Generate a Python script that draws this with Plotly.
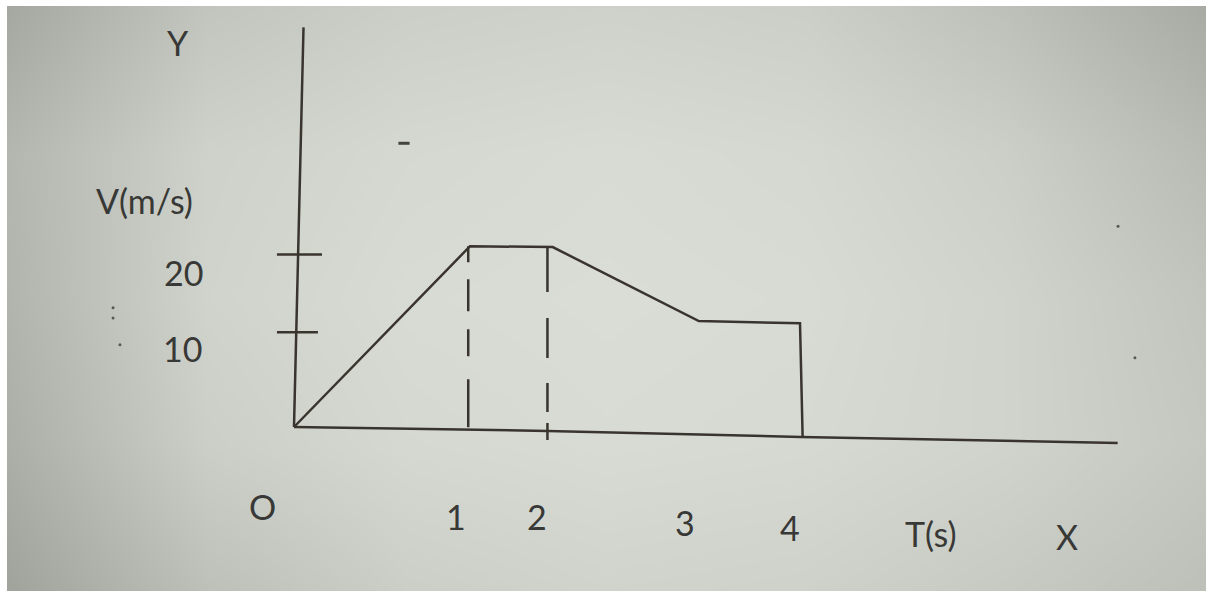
import plotly.graph_objects as go

# sketch units: 1 time unit = distance from O to mark "1", velocity in m/s as drawn
t_line = [0, 1.0, 1.47, 2.30, 2.875, 2.89]
v_line = [0, 20.9, 20.8, 12.25, 12.0, -1.15]

t_yaxis = [0, 0.054]
v_yaxis = [0, 46.2]

t_xaxis = [0, 1.44, 2.88, 4.68]
v_xaxis = [0, -0.45, -1.15, -1.85]

tick_v = [19.95, 10.95]
tick_t0 = [-0.097, -0.097]
tick_t1 = [0.159, 0.136]

dash_t = [0.99, 1.44]
dash_top = [20.9, 20.8]
dash_bottom = [-0.1, -1.5]
dash_styles = ["16px,17px,32px,18px,27px,23px,48px",
               "45px,26px,40px,25px,29px,11px,17px"]

time_labels = ['1', '2', '3', '4']
time_label_t = [0.92, 1.38, 2.22, 2.82]
time_label_v = [-10.3, -10.4, -11.0, -11.6]

vel_labels = ['20', '10']
vel_label_t = [-0.63, -0.635]
vel_label_v = [17.9, 9.1]

other_labels = ['Y', 'V(m/s)', 'O', 'T(s)', 'X']
other_label_t = [-0.66, -0.85, -0.18, 3.62, 4.39]
other_label_v = [44.5, 26.2, -9.2, -12.3, -12.7]

dash_speck_t = [0.625]
dash_speck_v = [32.8]
dot_specks_t = [4.682, 4.778, -1.028, -1.028, -0.989]
dot_specks_v = [23.2, 8.0, 13.8, 12.6, 9.5]

# paper shading (grey level, rows top->bottom)
bg_levels = [[165, 195, 205, 208, 205, 190, 168],
             [180, 208, 215, 218, 215, 205, 185],
             [178, 210, 218, 220, 218, 210, 195],
             [172, 205, 215, 218, 216, 210, 198],
             [160, 190, 205, 210, 208, 200, 190]]

x_range = [-1.6307, 5.1818]
y_range = [-18.96, 48.67]

ink = '#3a342f'
txt = '#383836'

fig = go.Figure()

nx = len(bg_levels[0])
ny = len(bg_levels)
bg_x = [x_range[0] + i * (x_range[1] - x_range[0]) / (nx - 1) for i in range(nx)]
bg_y = [y_range[1] - j * (y_range[1] - y_range[0]) / (ny - 1) for j in range(ny)]
fig.add_trace(go.Heatmap(x=bg_x, y=bg_y, z=bg_levels, zsmooth='best',
                         zmin=160, zmax=222, showscale=False, hoverinfo='skip',
                         colorscale=[[0, '#a0a39b'], [1, '#dcdfd8']]))

fig.add_trace(go.Scatter(x=t_yaxis, y=v_yaxis, mode='lines',
                         line=dict(color=ink, width=2.5)))
fig.add_trace(go.Scatter(x=t_xaxis, y=v_xaxis, mode='lines',
                         line=dict(color=ink, width=2.5)))

for a, b, v in zip(tick_t0, tick_t1, tick_v):
    fig.add_trace(go.Scatter(x=[a, b], y=[v, v], mode='lines',
                             line=dict(color=ink, width=2.5)))

for t, top, bot, ds in zip(dash_t, dash_top, dash_bottom, dash_styles):
    fig.add_trace(go.Scatter(x=[t, t], y=[top, bot], mode='lines',
                             line=dict(color=ink, width=2.5, dash=ds)))

fig.add_trace(go.Scatter(x=t_line, y=v_line, mode='lines',
                         line=dict(color=ink, width=2.5)))

# specks on the photographed paper
fig.add_trace(go.Scatter(x=dash_speck_t, y=dash_speck_v, mode='markers',
                         marker=dict(symbol='line-ew', size=8,
                                     line=dict(color='#454340', width=3))))
fig.add_trace(go.Scatter(x=dot_specks_t, y=dot_specks_v, mode='markers',
                         marker=dict(symbol='circle', size=3, color='#5a5855')))

for lbl, t, v in zip(time_labels + vel_labels + other_labels,
                     time_label_t + vel_label_t + other_label_t,
                     time_label_v + vel_label_v + other_label_v):
    fig.add_annotation(x=t, y=v, text=lbl, showarrow=False,
                       xanchor='center', yanchor='middle',
                       font=dict(family='Lato', size=34, color=txt))

fig.update_xaxes(range=x_range, visible=False)
fig.update_yaxes(range=y_range, visible=False)

fig.update_layout(width=1206, height=591,
                  margin=dict(l=7, r=0, t=6, b=0),
                  paper_bgcolor='white',
                  plot_bgcolor='#d2d5ce',
                  showlegend=False)

fig.write_html("out.html", config={'displayModeBar': False},
               post_script="document.body.style.margin='0px';")
